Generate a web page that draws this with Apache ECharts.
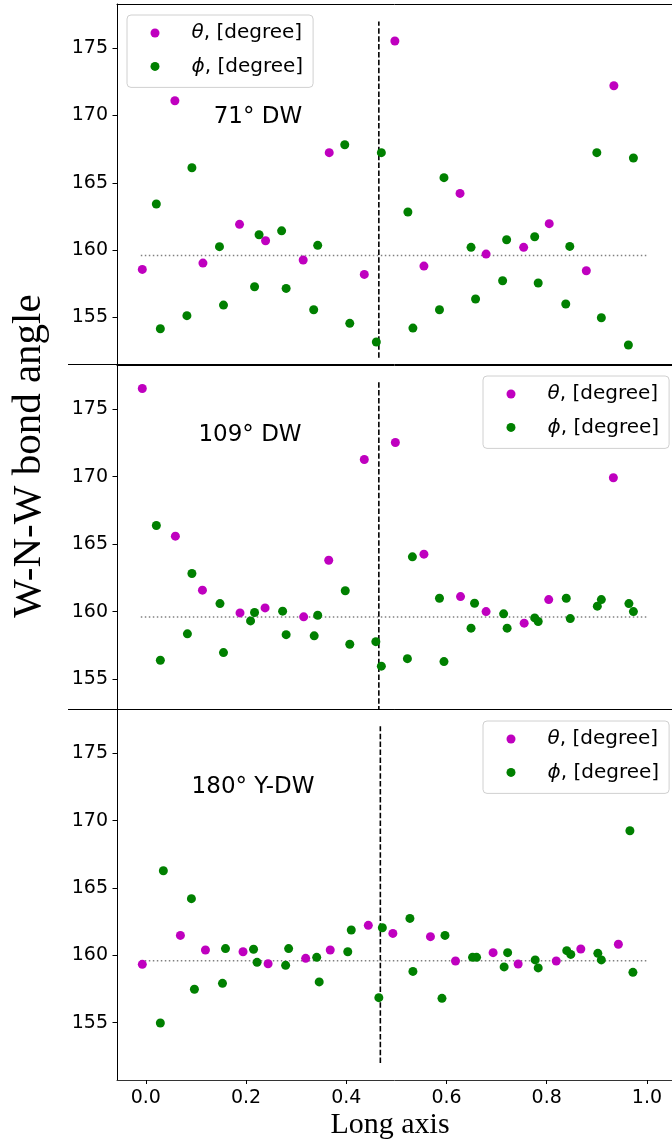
<!DOCTYPE html>
<html>
<head>
<meta charset="utf-8">
<script src="https://cdn.jsdelivr.net/npm/echarts@6/dist/echarts.min.js"></script>
<style>html,body{margin:0;padding:0;background:#fff}#c{width:672px;height:1144px}</style>
</head>
<body>
<div id="c"></div>
<script>
// ---- data ----
const panelTitles = ['71° DW', '109° DW', '180° Y-DW'];
const seriesNames = ['θ, [degree]', 'ϕ, [degree]'];
const yTicks = [155, 160, 165, 170, 175];
const xTicks = [0, 0.2, 0.4, 0.6, 0.8, 1.0];
const refLevel = 159.6;
const refX = [-0.01, 1.0];
const wallX = [0.465, 0.465, 0.468];
const wallY = [152, 177];

const p1ThetaX = [-0.007,0.058,0.114,0.187,0.239,0.314,0.366,0.436,0.497,0.555,0.627,0.679,0.754,0.805,0.879,0.934];
const p1ThetaY = [158.56,171.10,159.03,161.91,160.69,159.26,167.24,158.19,175.54,158.81,164.21,159.70,160.20,161.96,158.46,172.22];
const p1PhiX = [0.021,0.029,0.082,0.092,0.147,0.155,0.217,0.226,0.271,0.280,0.335,0.343,0.397,0.407,0.460,0.470,0.523,0.533,0.586,0.595,0.649,0.658,0.712,0.720,0.776,0.783,0.838,0.846,0.900,0.909,0.963,0.973];
const p1PhiY = [163.42,154.15,155.12,166.12,160.25,155.91,157.27,161.14,161.43,157.15,155.56,160.35,167.83,154.55,153.16,167.24,162.83,154.20,155.56,165.38,160.20,156.36,157.72,160.77,160.99,157.55,155.99,160.27,167.24,154.97,152.94,166.84];

const p2ThetaX = [-0.007,0.059,0.113,0.188,0.238,0.315,0.365,0.436,0.498,0.555,0.628,0.679,0.755,0.804,0.933];
const p2ThetaY = [176.54,165.59,161.59,159.90,160.27,159.61,163.81,171.28,172.54,164.26,161.11,160.00,159.14,160.89,169.92];
const p2PhiX = [0.021,0.029,0.083,0.092,0.148,0.155,0.209,0.217,0.273,0.280,0.336,0.343,0.398,0.407,0.459,0.470,0.522,0.532,0.586,0.595,0.649,0.656,0.714,0.721,0.776,0.783,0.839,0.847,0.901,0.909,0.964,0.973];
const p2PhiY = [166.38,156.39,158.35,162.82,160.59,156.96,159.31,159.93,160.03,158.29,158.20,159.73,161.54,157.58,157.77,155.95,156.51,164.06,160.99,156.29,158.77,160.62,159.83,158.77,159.53,159.26,160.99,159.48,160.40,160.89,160.59,160.00];

const p3ThetaX = [-0.007,0.069,0.119,0.194,0.244,0.319,0.368,0.444,0.493,0.568,0.618,0.693,0.743,0.819,0.868,0.943];
const p3ThetaY = [159.33,161.48,160.40,160.27,159.38,159.78,160.40,162.23,161.63,161.39,159.58,160.20,159.36,159.58,160.47,160.82];
const p3PhiX = [0.029,0.035,0.091,0.097,0.153,0.159,0.215,0.222,0.279,0.285,0.341,0.346,0.403,0.410,0.465,0.472,0.527,0.533,0.591,0.597,0.652,0.660,0.715,0.722,0.777,0.783,0.840,0.848,0.902,0.909,0.966,0.972];
const p3PhiY = [154.98,166.28,164.21,157.48,157.92,160.50,160.45,159.48,159.26,160.50,159.85,158.03,160.27,161.88,156.86,162.05,162.74,158.81,156.81,161.48,159.85,159.85,159.14,160.20,159.66,159.07,160.35,160.07,160.15,159.66,169.25,158.74];

// ---- layout ----
const panels = [
  {theta:[p1ThetaX,p1ThetaY], phi:[p1PhiX,p1PhiY], top:4, height:360, ymin:151.528, ymax:178.294, legendLeft:127, legendTop:15, title:[258,117]},
  {theta:[p2ThetaX,p2ThetaY], phi:[p2PhiX,p2PhiY], top:365, height:344, ymin:152.775, ymax:178.285, legendLeft:483, legendTop:376, title:[250,435]},
  {theta:[p3ThetaX,p3ThetaY], phi:[p3PhiX,p3PhiY], top:709, height:371, ymin:150.746, ymax:178.289, legendLeft:483, legendTop:721, title:[253,787]}
];
const XMIN = -0.0575, XMAX = 1.05;
const zip = (xs, ys) => xs.map((x, i) => [x, ys[i]]);
const FONT = 'DejaVu Sans';
const colors = ['#bf00bf', '#008000'];

const grid = [], xAxis = [], yAxis = [], series = [], legend = [], graphic = [];
const n = panels.length;
panels.forEach((p, i) => {
  const last = i === n - 1;
  grid.push({left:117, right:-6, top:p.top, height:p.height, show:false, containLabel:false});
  xAxis.push({
    type:'value', gridIndex:i, min:XMIN, max:XMAX, position:'bottom',
    axisLine:{show:true, onZero:false, lineStyle:{color: last ? '#333' : '#000', width:1}}, splitLine:{show:false},
    axisTick:{show:last, length:4, lineStyle:{color:'#000'}, customValues:xTicks},
    axisLabel:{show:last, margin:9, fontFamily:FONT, fontSize:19, color:'#000', customValues:xTicks, formatter:v=>v.toFixed(1)}
  });
  yAxis.push({
    type:'value', gridIndex:i, min:p.ymin, max:p.ymax, position:'left',
    axisLine:{show:true, onZero:false, lineStyle:{color:'#000', width:1}}, splitLine:{show:false},
    axisTick:{show:true, length:4.5, lineStyle:{color:'#000'}, customValues:yTicks},
    axisLabel:{show:true, margin:9, fontFamily:FONT, fontSize:19, color:'#000', customValues:yTicks}
  });
  series.push({type:'line', name:'ref'+i, xAxisIndex:i, yAxisIndex:i, data:zip(refX,[refLevel,refLevel]), symbol:'none', silent:true, z:1,
    lineStyle:{color:'#808080', width:1.5, type:[1.5,2.5]}});
  series.push({type:'line', name:'wall'+i, xAxisIndex:i, yAxisIndex:i, data:zip([wallX[i],wallX[i]],wallY), symbol:'none', silent:true, z:1,
    lineStyle:{color:'#000', width:1.6, type:[5.5,2.4]}});
  series.push({type:'scatter', name:seriesNames[0], xAxisIndex:i, yAxisIndex:i, data:zip(p.theta[0],p.theta[1]), symbolSize:9, z:2, itemStyle:{color:colors[0], opacity:1}});
  series.push({type:'scatter', name:seriesNames[1], xAxisIndex:i, yAxisIndex:i, data:zip(p.phi[0],p.phi[1]), symbolSize:9, z:3, itemStyle:{color:colors[1], opacity:1}});
  legend.push({
    data:seriesNames, orient:'vertical', left:p.legendLeft, top:p.legendTop,
    icon:'circle', itemWidth:9, itemHeight:9, itemGap:11.4, selectedMode:false,
    padding:[7,10,10,23.5], backgroundColor:'rgba(255,255,255,0.8)', borderColor:'#d0d0d0', borderWidth:1, borderRadius:4,
    formatter: nm => '{i|' + nm.charAt(0) + '}' + nm.slice(1),
    textStyle:{fontFamily:FONT, fontSize:20, color:'#000', lineHeight:22, padding:[0,0,0,27],
      rich:{i:{fontFamily:FONT, fontSize:20, fontStyle:'italic', color:'#000', lineHeight:22}}}
  });
  graphic.push({type:'text', x:p.title[0], y:p.title[1], silent:true,
    style:{text:panelTitles[i], font:'23px "DejaVu Sans"', fill:'#000', textAlign:'center', textVerticalAlign:'middle'}});
});
// top spines: one extra x axis per panel, line only
panels.forEach((p, i) => {
  xAxis.push({type:'value', gridIndex:i, min:XMIN, max:XMAX, position:'top',
    axisLine:{show:true, onZero:false, lineStyle:{color:'#000', width:1}},
    axisTick:{show:false}, axisLabel:{show:false}, splitLine:{show:false}});
});
// separators between panels extending left
graphic.push({type:'line', silent:true, shape:{x1:68, y1:364.5, x2:117, y2:364.5}, style:{stroke:'#000', lineWidth:1}});
graphic.push({type:'line', silent:true, shape:{x1:68, y1:709.5, x2:117, y2:709.5}, style:{stroke:'#000', lineWidth:1}});
// axis titles
graphic.push({type:'text', x:29, y:456, rotation:Math.PI/2, silent:true,
  style:{text:'W-N-W bond angle', font:'41px "Liberation Serif"', fill:'#000', textAlign:'center', textVerticalAlign:'middle'}});
graphic.push({type:'text', x:390, y:1125, silent:true,
  style:{text:'Long axis', font:'30px "Liberation Serif"', fill:'#000', textAlign:'center', textVerticalAlign:'middle'}});

const chart = echarts.init(document.getElementById('c'), null, {renderer:'canvas'});
chart.setOption({animation:false, backgroundColor:'#fff', grid, xAxis, yAxis, series, legend, graphic});
</script>
</body>
</html>
